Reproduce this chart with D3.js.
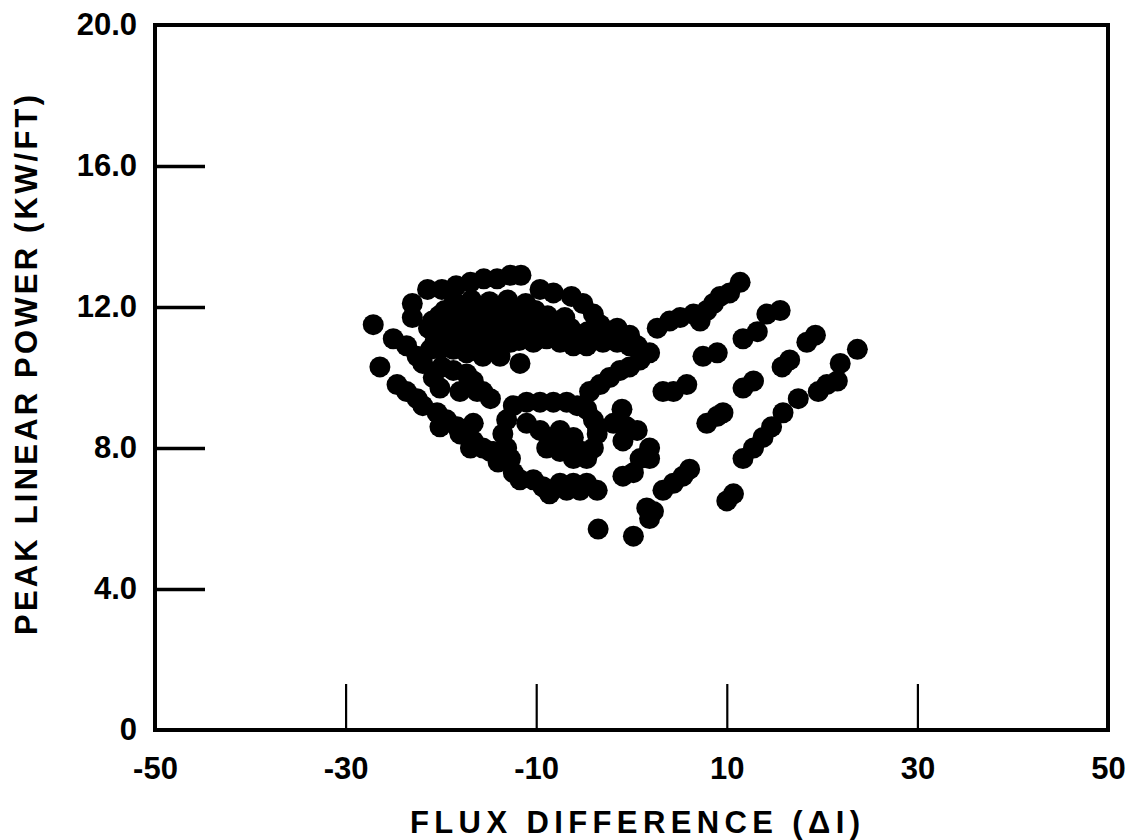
<!DOCTYPE html>
<html>
<head>
<meta charset="utf-8">
<script src="https://cdn.jsdelivr.net/npm/d3@7"></script>
<style>
	body { margin: 0; background: #fff; }
	svg { display: block; font-family: 'Liberation Sans', Arial, sans-serif; font-weight: bold; }
</style>
</head>
<body>
<svg></svg>
<script>
const width = 1132;
const height = 840;

// tick values
const xTickValues = [-50, -30, -10, 10, 30, 50];
const yTickValues = [0, 4, 8, 12, 16, 20];

// [flux difference, peak linear power]
const loosePoints = [
	[-27.1, 11.5], [-26.4, 10.3]
];
const topArc = [
	[-23.0, 12.1], [-23.0, 11.7], [-21.4, 12.5], [-19.9, 12.5], [-18.4, 12.6],
	[-16.9, 12.7], [-15.5, 12.8], [-14.1, 12.8], [-12.7, 12.9], [-11.6, 12.9],
	[-9.6, 12.5], [-8.2, 12.4], [-6.3, 12.3], [-5.1, 12.1], [-4.0, 11.8],
	[-3.3, 11.5], [-2.6, 11.3], [-1.5, 11.4], [-0.2, 11.2], [0.6, 10.9]
];
// the solid black patch, many overlapping readings
const denseCore = [
	[-18.6, 12.15], [-16.8, 12.2], [-14.9, 12.15], [-13.0, 12.2], [-11.1, 12.1],
	[-19.6, 11.9], [-17.7, 12.0], [-15.8, 11.9], [-13.9, 12.0], [-12.0, 11.9], [-10.1, 11.9],
	[-20.2, 11.75], [-18.3, 11.75], [-16.4, 11.8], [-14.5, 11.75], [-12.6, 11.75],
	[-10.7, 11.7], [-8.8, 11.75], [-7.0, 11.7],
	[-20.9, 11.6], [-19.0, 11.5], [-17.2, 11.6], [-15.3, 11.6], [-13.4, 11.5], [-11.5, 11.6],
	[-9.6, 11.6], [-7.7, 11.5],
	[-21.3, 11.4], [-19.4, 11.4], [-17.6, 11.4], [-15.7, 11.4], [-13.8, 11.4], [-11.9, 11.4],
	[-10.0, 11.4], [-8.2, 11.4], [-6.4, 11.4], [-4.6, 11.3],
	[-20.3, 11.2], [-18.4, 11.2], [-16.5, 11.3], [-14.6, 11.2], [-12.7, 11.2], [-10.9, 11.2],
	[-9.0, 11.2], [-7.1, 11.3], [-5.4, 11.2],
	[-20.6, 11.05], [-18.0, 11.05], [-15.9, 11.05], [-13.9, 11.05], [-11.8, 11.05],
	[-9.8, 11.1], [-7.8, 11.1], [-5.9, 11.05],
	[-19.0, 10.9], [-16.9, 11.0], [-14.8, 10.9], [-12.7, 11.0]
];
const belowCore = [
	[-25.0, 11.1], [-23.6, 10.9], [-22.5, 10.6], [-21.1, 10.8], [-20.1, 10.8],
	[-18.7, 10.8], [-17.3, 10.7], [-15.6, 10.6], [-13.8, 10.6], [-11.7, 10.4],
	[-10.3, 11.0], [-8.9, 11.1], [-7.5, 11.0], [-6.1, 10.9], [-4.7, 10.9],
	[-3.0, 11.0], [-1.5, 11.0], [-0.2, 10.9]
];
const risingLine = [
	[-4.4, 9.6], [-3.3, 9.8], [-2.3, 10.0], [-1.2, 10.2], [-0.2, 10.3], [0.9, 10.5], [1.9, 10.7]
];
const middleRow = [
	[-21.9, 10.4], [-20.8, 10.0], [-20.1, 9.7], [-18.7, 10.2], [-17.3, 10.1], [-16.6, 9.9],
	[-15.6, 9.6], [-14.8, 9.4], [-18.0, 9.6], [-16.2, 9.6], [-19.9, 10.3]
];
const fallingLine = [
	[-24.6, 9.8], [-23.6, 9.6], [-22.5, 9.4], [-21.9, 9.2], [-20.4, 9.0], [-19.4, 8.8],
	[-18.3, 8.6], [-17.3, 8.4], [-16.6, 8.7], [-16.6, 8.2], [-15.6, 8.0], [-14.5, 7.9],
	[-13.5, 7.7], [-20.1, 8.6], [-18.0, 8.4], [-16.9, 8.0], [-14.8, 7.9], [-14.0, 7.6]
];
const loop = [
	[-12.4, 9.2], [-11.0, 9.3], [-9.6, 9.3], [-8.2, 9.3], [-6.8, 9.3], [-5.7, 9.2],
	[-13.1, 8.8], [-13.5, 8.4], [-13.1, 8.0], [-12.7, 7.7],
	[-11.0, 8.7], [-9.6, 8.5], [-8.6, 8.3], [-7.5, 8.5], [-6.8, 8.2], [-6.1, 8.0],
	[-8.9, 8.0], [-6.1, 8.3], [-5.1, 7.9], [-6.1, 7.7], [-7.5, 7.9],
	[-4.7, 9.1], [-4.0, 8.8], [-3.6, 8.4], [-4.0, 8.0], [-4.7, 7.7],
	[-12.4, 7.3], [-11.7, 7.1], [-10.3, 7.1], [-9.3, 6.9], [-8.6, 6.7], [-7.5, 7.0],
	[-6.1, 7.0], [-4.7, 7.0], [-3.6, 6.8], [-6.8, 6.8], [-5.4, 6.8]
];
const centerCluster = [
	[-3.6, 8.6], [-1.9, 8.7], [-1.0, 9.1], [-0.5, 8.6], [-0.9, 8.2], [0.6, 8.5],
	[1.9, 8.0], [0.9, 7.7], [1.9, 7.7], [-0.9, 7.2], [0.2, 7.3],
	[1.6, 6.3], [2.3, 6.2], [1.9, 6.0], [-3.5, 5.7], [0.2, 5.5]
];
const rightLines = [
	[2.7, 11.4], [4.0, 11.6], [5.1, 11.7], [6.5, 11.8], [7.2, 11.6], [7.9, 11.9],
	[8.6, 12.1], [9.3, 12.3], [10.3, 12.4], [11.4, 12.7],
	[14.2, 11.8], [15.6, 11.9],
	[7.5, 10.6], [9.0, 10.7], [11.7, 11.1], [13.2, 11.3],
	[3.3, 9.6], [4.4, 9.6], [5.8, 9.8],
	[11.7, 9.7], [12.8, 9.9], [15.8, 10.3], [16.6, 10.5], [18.4, 11.0], [19.3, 11.2],
	[7.9, 8.7], [9.0, 8.9], [9.6, 9.0],
	[11.7, 7.7], [12.8, 8.0], [13.8, 8.3], [14.7, 8.6], [15.9, 9.0], [17.5, 9.4],
	[19.6, 9.6], [20.5, 9.8], [21.6, 9.9], [21.9, 10.4], [23.7, 10.8],
	[3.3, 6.8], [4.4, 7.0], [5.4, 7.2], [6.1, 7.4],
	[10.0, 6.5], [10.7, 6.7]
];

const points = [].concat(loosePoints, topArc, denseCore, belowCore, risingLine,
	middleRow, fallingLine, loop, centerCluster, rightLines);

const svg = d3.select('svg')
	.attr('width', width)
	.attr('height', height);

const x = d3.scaleLinear()
	.domain([-50, 50])
	.range([155, 1108]);
const y = d3.scaleLinear()
	.domain([0, 20])
	.range([730, 25]);

// y axis: ticks point inward, labels outside
const yAxisG = svg.append('g')
	.attr('transform', `translate(${x(-50)}, 0)`)
	.call(d3.axisLeft(y)
		.tickValues(yTickValues)
		.tickSizeInner(-50)
		.tickSizeOuter(0)
		.tickPadding(18)
		.tickFormat(d => d === 0 ? '0' : d3.format('.1f')(d)));
yAxisG.select('.domain').remove();
yAxisG.selectAll('.tick line')
	.attr('stroke', '#000')
	.attr('stroke-width', 3.5)
	.filter(d => d === 0 || d === 20).remove();
yAxisG.selectAll('.tick text')
	.attr('font-size', 31)
	.attr('font-family', 'Liberation Sans, Arial, sans-serif')
	.attr('font-weight', 'bold')
	.attr('fill', '#000');

// x axis
const xAxisG = svg.append('g')
	.attr('transform', `translate(0, ${y(0)})`)
	.call(d3.axisBottom(x)
		.tickValues(xTickValues)
		.tickSizeInner(-46)
		.tickSizeOuter(0)
		.tickPadding(27)
		.tickFormat(d => String(d)));
xAxisG.select('.domain').remove();
xAxisG.selectAll('.tick line')
	.attr('stroke', '#000')
	.attr('stroke-width', 2.2)
	.filter(d => d === -50 || d === 50).remove();
xAxisG.selectAll('.tick text')
	.attr('font-size', 31)
	.attr('font-family', 'Liberation Sans, Arial, sans-serif')
	.attr('font-weight', 'bold')
	.attr('fill', '#000');

// frame
svg.append('rect')
	.attr('x', x(-50))
	.attr('y', y(20))
	.attr('width', x(50) - x(-50))
	.attr('height', y(0) - y(20))
	.attr('fill', 'none')
	.attr('stroke', '#000')
	.attr('stroke-width', 4);

// dots
svg.append('g')
	.selectAll('circle')
	.data(points)
	.join('circle')
		.attr('cx', d => x(d[0]))
		.attr('cy', d => y(d[1]))
		.attr('r', 10.5)
		.attr('fill', '#000');

// axis titles
svg.append('text')
	.attr('x', 635)
	.attr('y', 833)
	.attr('text-anchor', 'middle')
	.attr('font-size', 31)
	.attr('textLength', 450)
	.attr('lengthAdjust', 'spacing')
	.text('FLUX DIFFERENCE (ΔI)');

svg.append('text')
	.attr('transform', 'translate(37, 365) rotate(-90)')
	.attr('text-anchor', 'middle')
	.attr('font-size', 31)
	.attr('textLength', 540)
	.attr('lengthAdjust', 'spacing')
	.text('PEAK LINEAR POWER (KW/FT)');
</script>
</body>
</html>
